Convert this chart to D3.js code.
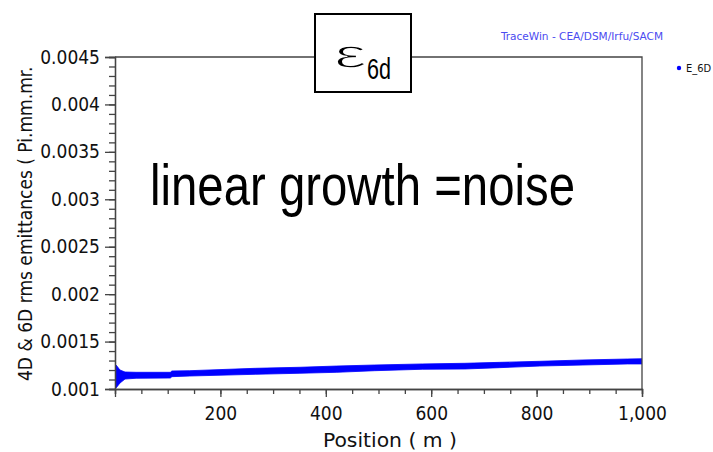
<!DOCTYPE html>
<html>
<head>
<meta charset="utf-8">
<script src="https://cdn.jsdelivr.net/npm/d3@7"></script>
<style>
  html, body { margin: 0; padding: 0; background: #fff; }
  svg { display: block; }
  .tk { font-family: "DejaVu Sans Condensed", "DejaVu Sans", sans-serif; font-stretch: condensed; }
</style>
</head>
<body>
<svg id="chart" width="713" height="452"></svg>
<script>
// Position along the linac (m)
const positions = [0, 2, 9.5, 19, 40, 105, 108, 142, 266, 351, 421, 493, 583, 664, 730, 806, 888, 972, 1000];
// Upper / lower envelope of the oscillating E_6D trace (Pi.mm.mrad)
const e6dUpper = [0.001232, 0.001253, 0.00120, 0.001179, 0.001176, 0.001176, 0.00119, 0.001193, 0.001218, 0.001229,
                  0.001242, 0.001253, 0.001264, 0.001271, 0.001281, 0.001292, 0.001306, 0.001316, 0.001319];
const e6dLower = [0.00100, 0.001011, 0.001063, 0.001105, 0.001113, 0.001116, 0.00113, 0.001137, 0.001155, 0.001166,
                  0.001176, 0.001193, 0.001208, 0.001211, 0.001225, 0.001242, 0.001253, 0.001264, 0.001264];

const yMajorTicks = [0.001, 0.0015, 0.002, 0.0025, 0.003, 0.0035, 0.004, 0.0045];
const yTickLabels = ["0.001", "0.0015", "0.002", "0.0025", "0.003", "0.0035", "0.004", "0.0045"];
const xMajorTicks = [200, 400, 600, 800, 1000];
const xTickLabels = ["200", "400", "600", "800", "1,000"];

const svg = d3.select("#chart");
const plot = { left: 115, right: 642, top: 57, bottom: 389 };

const x = d3.scaleLinear().domain([0, 1000]).range([plot.left, plot.right]);
const y = d3.scaleLinear().domain([0.001, 0.0045]).range([plot.bottom, plot.top]);

svg.append("rect").attr("width", 713).attr("height", 452).attr("fill", "#fff");

svg.append("defs").append("clipPath").attr("id", "plotClip")
  .append("rect").attr("x", plot.left).attr("y", plot.top)
  .attr("width", plot.right - plot.left).attr("height", plot.bottom - plot.top);

// E_6D band
const rows = positions.map((p, i) => ({ p, hi: e6dUpper[i], lo: e6dLower[i] }));
svg.append("path")
  .datum(rows)
  .attr("clip-path", "url(#plotClip)")
  .attr("fill", "#0000ff")
  .attr("stroke", "#0000ff")
  .attr("stroke-width", 0.8)
  .attr("d", d3.area().x(d => x(d.p)).y0(d => y(d.lo)).y1(d => y(d.hi)));

// Frame (top and right)
svg.append("path")
  .attr("d", `M${plot.left},${plot.top}H${plot.right}V${plot.bottom}`)
  .attr("fill", "none").attr("stroke", "#444").attr("stroke-width", 1.3);

// Minor ticks
const yMinor = d3.range(10, 46).map(v => v / 10000);
svg.append("g").attr("transform", `translate(${plot.left},0)`)
  .call(d3.axisLeft(y).tickValues(yMinor).tickSize(6).tickFormat(""))
  .call(g => g.selectAll("path,line").attr("stroke", "#444").attr("stroke-width", 1.3));
const xMinor = d3.range(0, 1001, 50);
svg.append("g").attr("transform", `translate(0,${plot.bottom})`)
  .call(d3.axisBottom(x).tickValues(xMinor).tickSize(5).tickFormat(""))
  .call(g => g.selectAll("path,line").attr("stroke", "#444").attr("stroke-width", 1.3));

// Major ticks and labels
svg.append("g").attr("class", "tk").attr("transform", `translate(${plot.left},0)`)
  .call(d3.axisLeft(y).tickValues(yMajorTicks).tickSize(10).tickPadding(5)
    .tickFormat((d, i) => yTickLabels[i]))
  .call(g => g.selectAll("path,line").attr("stroke", "#444").attr("stroke-width", 1.3))
  .call(g => g.selectAll("text").attr("font-size", 19).attr("fill", "#111"))
  .attr("font-family", null).attr("font-size", null);
svg.append("g").attr("class", "tk").attr("transform", `translate(0,${plot.bottom})`)
  .call(d3.axisBottom(x).tickValues(xMajorTicks).tickSize(8).tickPadding(10)
    .tickFormat((d, i) => xTickLabels[i]))
  .call(g => g.selectAll("path,line").attr("stroke", "#444").attr("stroke-width", 1.3))
  .call(g => g.selectAll("text").attr("font-size", 19).attr("fill", "#111"))
  .attr("font-family", null).attr("font-size", null);

// Axis titles
svg.append("text").attr("class", "tk")
  .attr("transform", "translate(32,381) rotate(-90)")
  .attr("font-size", 19).attr("fill", "#111")
  .text("4D & 6D rms emittances ( Pi.mm.mr.");
svg.append("text").attr("class", "tk")
  .attr("x", 323).attr("y", 447)
  .attr("font-size", 19).attr("fill", "#111")
  .attr("textLength", 134).attr("lengthAdjust", "spacingAndGlyphs")
  .text("Position ( m )");

// Software credit
svg.append("text").attr("class", "tk")
  .attr("x", 501).attr("y", 40).attr("font-size", 11).attr("fill", "#4b4bf0")
  .attr("textLength", 162).attr("lengthAdjust", "spacingAndGlyphs")
  .text("TraceWin - CEA/DSM/Irfu/SACM");

// Legend
svg.append("circle").attr("cx", 679).attr("cy", 68).attr("r", 2.2).attr("fill", "#0000ff");
svg.append("text").attr("class", "tk")
  .attr("x", 686).attr("y", 72).attr("font-size", 11).attr("fill", "#111")
  .text("E_6D");

// Title box
svg.append("rect").attr("x", 315).attr("y", 14).attr("width", 96).attr("height", 78)
  .attr("fill", "#fff").attr("stroke", "#000").attr("stroke-width", 2);
svg.append("text")
  .attr("x", 334).attr("y", 68)
  .attr("font-family", "Liberation Sans, Arial, sans-serif").attr("font-size", 40).attr("fill", "#000")
  .attr("stroke", "#fff").attr("stroke-width", 1.4)
  .attr("textLength", 33).attr("lengthAdjust", "spacingAndGlyphs")
  .text("ε");
svg.append("text")
  .attr("x", 367).attr("y", 79)
  .attr("font-family", "Liberation Sans, Arial, sans-serif").attr("font-size", 29).attr("fill", "#000")
  .attr("textLength", 24).attr("lengthAdjust", "spacingAndGlyphs")
  .text("6d");

// Annotation
svg.append("text")
  .attr("x", 150).attr("y", 205)
  .attr("font-family", "Liberation Sans, Arial, sans-serif").attr("font-size", 57).attr("fill", "#000")
  .attr("textLength", 425).attr("lengthAdjust", "spacingAndGlyphs")
  .text("linear growth =noise");
</script>
</body>
</html>
